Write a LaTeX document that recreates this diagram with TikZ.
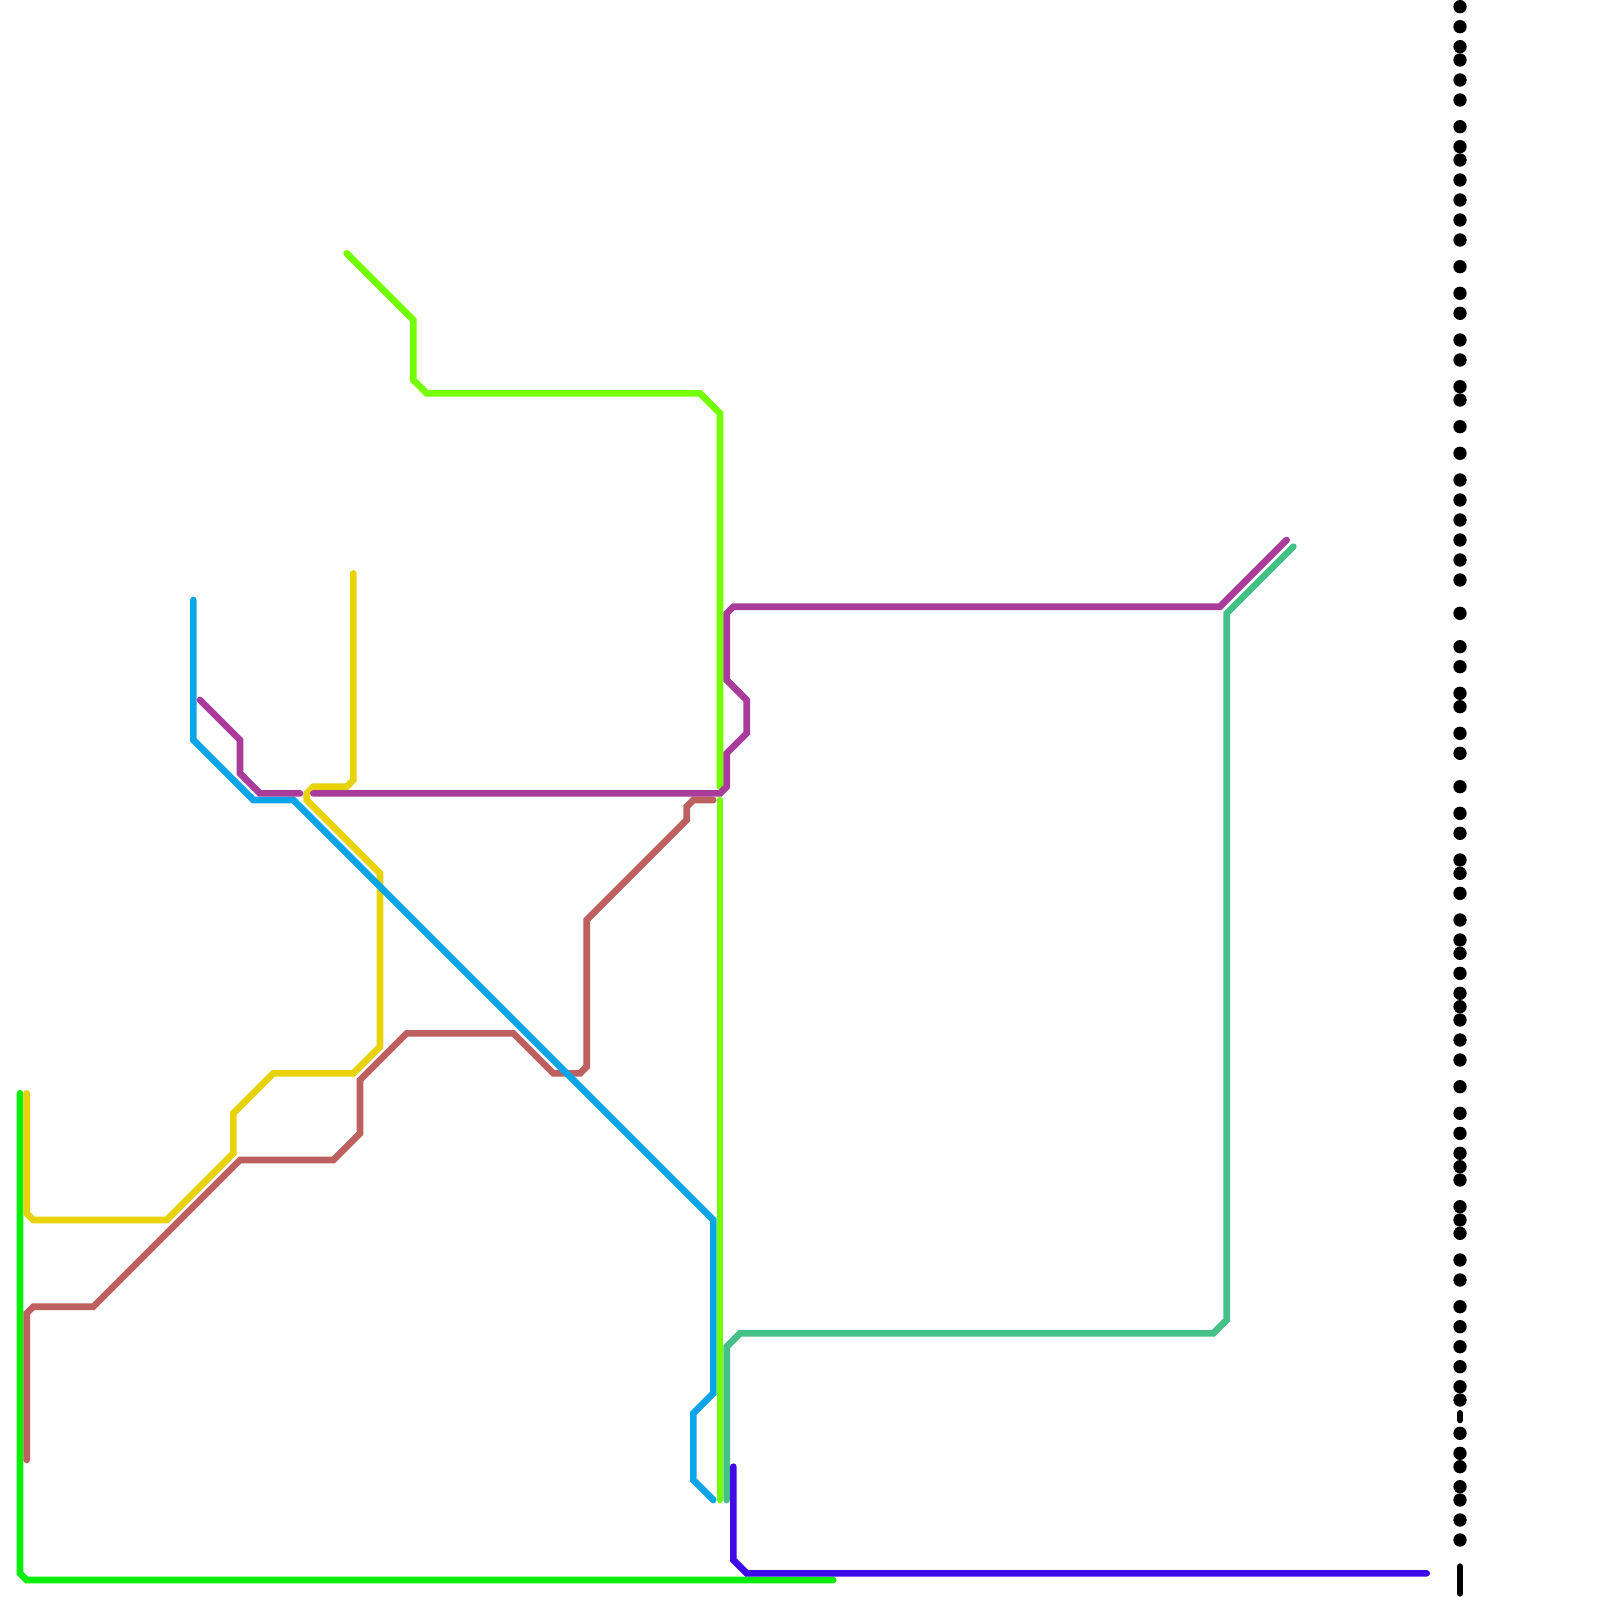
\documentclass[tikz,border=0pt]{standalone}
\definecolor{cblue}{HTML}{0AA5E8}
\definecolor{clime}{HTML}{76FF00}
\definecolor{cgreen}{HTML}{0BEE0B}
\definecolor{cyellow}{HTML}{E8D20A}
\definecolor{cbrown}{HTML}{BD6060}
\definecolor{cpurple}{HTML}{A93B9B}
\definecolor{cteal}{HTML}{44C088}
\definecolor{cindigo}{HTML}{3F0AE8}
\tikzset{routeline/.style={line width=3.33pt,line cap=round,line join=miter,miter limit=4}}
\begin{document}
\begin{tikzpicture}[x=0.5pt,y=-0.5pt]
\useasboundingbox (0,0) rectangle (1600,1600);
\fill[white] (0,0) rectangle (1600,1600);
\draw[routeline,cgreen] (20,1093.33) -- (20,1573.33) -- (26.67,1580) -- (833.33,1580);
\draw[routeline,cyellow] (26.67,1093.33) -- (26.67,1213.33) -- (33.33,1220) -- (166.67,1220) -- (233.33,1153.33) -- (233.33,1113.33) -- (273.33,1073.33) -- (353.33,1073.33) -- (380,1046.67) -- (380,873.33) -- (306.67,800) -- (306.67,793.33) -- (313.33,786.67) -- (346.67,786.67) -- (353.33,780) -- (353.33,573.33);
\draw[routeline,cbrown] (26.67,1460) -- (26.67,1313.33) -- (33.33,1306.67) -- (93.33,1306.67) -- (240,1160) -- (333.33,1160) -- (360,1133.33) -- (360,1080) -- (406.67,1033.33) -- (513.33,1033.33) -- (553.33,1073.33) -- (580,1073.33) -- (586.67,1066.67) -- (586.67,920) -- (686.67,820) -- (686.67,806.67) -- (693.33,800) -- (713.33,800);
\draw[routeline,cblue] (193.33,600) -- (193.33,740) -- (253.33,800) -- (293.33,800) -- (713.33,1220) -- (713.33,1393.33) -- (693.33,1413.33) -- (693.33,1480) -- (713.33,1500);
\draw[routeline,clime] (346.67,253.33) -- (413.33,320) -- (413.33,380) -- (426.67,393.33) -- (700,393.33) -- (720,413.33) -- (720,786.67);
\draw[routeline,clime] (720,800) -- (720,1500);
\draw[routeline,cpurple] (200,700) -- (240,740) -- (240,773.33) -- (260,793.33) -- (300,793.33);
\draw[routeline,cpurple] (313.33,793.33) -- (720,793.33) -- (726.67,786.67) -- (726.67,753.33) -- (746.67,733.33) -- (746.67,700) -- (726.67,680) -- (726.67,613.33) -- (733.33,606.67) -- (1220,606.67) -- (1286.67,540);
\draw[routeline,cteal] (726.67,1500) -- (726.67,1346.67) -- (740,1333.33) -- (1213.33,1333.33) -- (1226.67,1320) -- (1226.67,613.33) -- (1293.33,546.67);
\draw[routeline,cindigo] (733.33,1466.67) -- (733.33,1560) -- (746.67,1573.33) -- (1426.67,1573.33);
\foreach \yy in {6.67,26.67,46.67,60,80,100,126.67,146.67,160,180,200,220,240,266.67,293.33,313.33,340,360,386.67,400,426.67,453.33,480,500,520,540,560,580,613.33,646.67,666.67,693.33,706.67,733.33,753.33,786.67,813.33,833.33,860,873.33,893.33,920,940,953.33,973.33,993.33,1006.67,1020,1040,1060,1086.67,1113.33,1133.33,1153.33,1166.67,1180,1206.67,1220,1233.33,1260,1280,1306.67,1326.67,1346.67,1366.67,1386.67,1400,1433.33,1453.33,1466.67,1486.67,1500,1520,1540}
  \fill[black] (1460,\yy) circle[radius=6.67];
\draw[routeline,black] (1460,1413.33) -- (1460,1420);
\draw[routeline,black] (1460,1566.67) -- (1460,1593.33);
\end{tikzpicture}
\end{document}
